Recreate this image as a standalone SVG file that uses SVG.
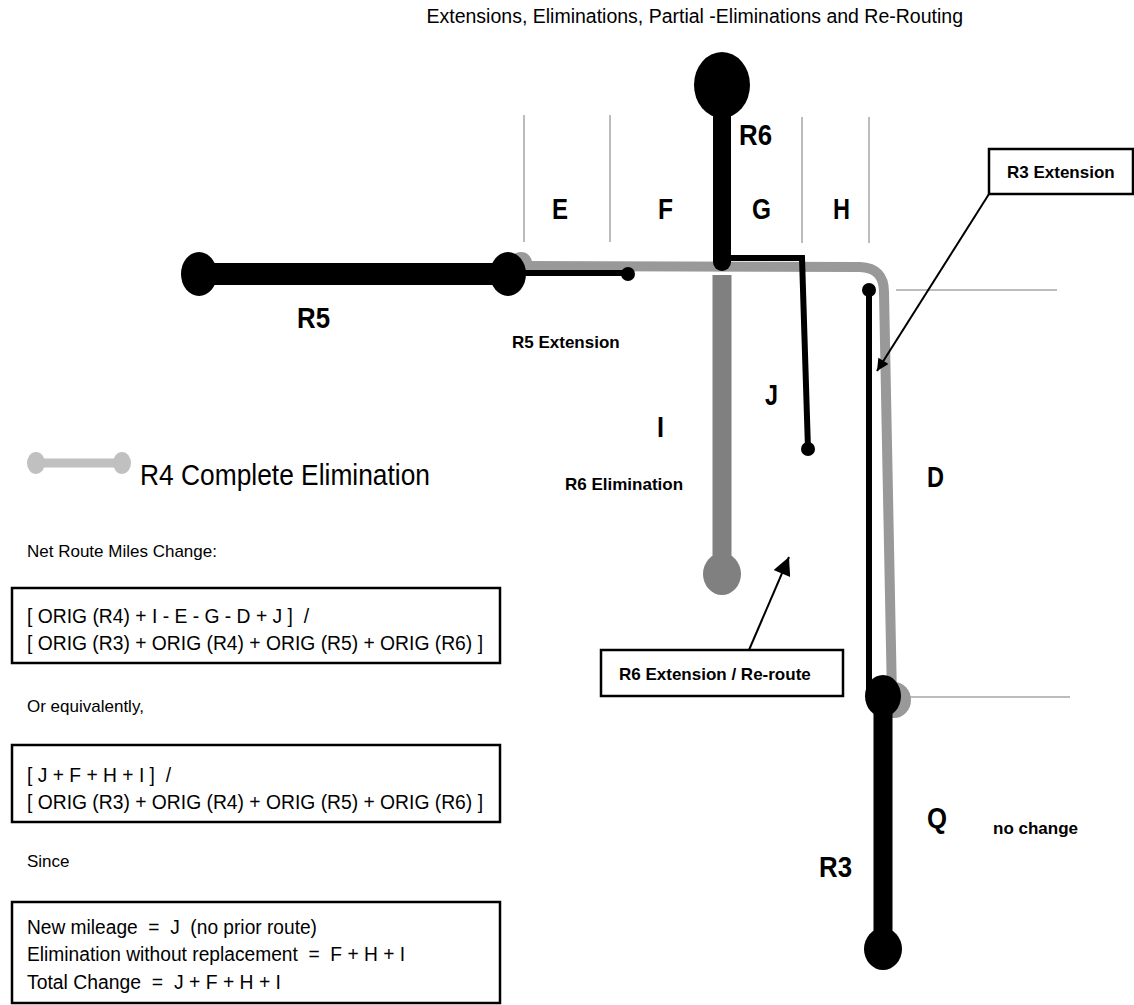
<svg xmlns="http://www.w3.org/2000/svg" width="1134" height="1005" viewBox="0 0 1134 1005">
<style>
text{font-family:"Liberation Sans",Arial,sans-serif;fill:#000}
.big{font-size:29px;font-weight:bold}
.lbl{font-size:17px;font-weight:bold}
.reg{font-size:17px}
.f{font-size:20px;white-space:pre}
.grid{stroke:#a6a6a6;stroke-width:1.5}
.box{fill:#fff;stroke:#000;stroke-width:2.5}
.blk{fill:#000}
.ln{stroke:#000;fill:none}
</style>
<defs>
<marker id="ah" viewBox="0 0 10 10" refX="10" refY="5" markerWidth="16" markerHeight="12" markerUnits="userSpaceOnUse" orient="auto"><path d="M0,0 L10,5 L0,10 z" fill="#000"/></marker>
<marker id="ah2" viewBox="0 0 10 10" refX="10" refY="5" markerWidth="22" markerHeight="18" markerUnits="userSpaceOnUse" orient="auto"><path d="M0,0 L10,5 L0,10 z" fill="#000"/></marker>
</defs>
<rect width="1134" height="1005" fill="#fff"/>

<g id="title"><text x="963" y="23" text-anchor="end" font-size="19.5">Extensions, Eliminations, Partial -Eliminations and Re-Routing</text></g>

<g id="grid">
<line class="grid" x1="524" y1="115" x2="524" y2="242"/>
<line class="grid" x1="610" y1="115" x2="610" y2="242"/>
<line class="grid" x1="802" y1="117" x2="802" y2="243"/>
<line class="grid" x1="869" y1="117" x2="869" y2="243"/>
<line class="grid" x1="896" y1="290" x2="1057" y2="290"/>
<line class="grid" x1="905" y1="697" x2="1070" y2="697"/>
</g>

<g id="r4-route">
<circle cx="521" cy="263" r="11" fill="#999"/>
<path d="M521 266 L860 267 Q884 268 884 292 L892 698" stroke="#999" stroke-width="10" fill="none" stroke-linecap="round"/>
<ellipse cx="894" cy="700" rx="17" ry="18" fill="#999"/>
</g>

<g id="r6-elimination">
<line x1="722" y1="275" x2="722" y2="565" stroke="#808080" stroke-width="19"/>
<ellipse cx="722" cy="574" rx="19" ry="21" fill="#808080"/>
</g>

<g id="r5">
<rect class="blk" x="199" y="263" width="309" height="22"/>
<ellipse class="blk" cx="199" cy="274" rx="18" ry="22"/>
<ellipse class="blk" cx="508" cy="274" rx="18" ry="22"/>
</g>

<g id="r5-extension">
<line class="ln" x1="508" y1="273" x2="628" y2="273" stroke-width="6"/>
<circle class="blk" cx="628" cy="274" r="7"/>
</g>

<g id="r6">
<ellipse class="blk" cx="722" cy="85" rx="28" ry="33"/>
<line class="ln" x1="722" y1="100" x2="722" y2="262" stroke-width="18" stroke-linecap="round"/>
</g>

<g id="r6-extension">
<polyline class="ln" points="722,258 802,258 808,449" stroke-width="6"/>
<circle class="blk" cx="808" cy="449" r="7"/>
</g>

<g id="r3-extension">
<line class="ln" x1="869" y1="290" x2="869" y2="697" stroke-width="6"/>
<circle class="blk" cx="869" cy="290" r="7"/>
</g>

<g id="r3">
<ellipse class="blk" cx="883" cy="696" rx="18" ry="21"/>
<rect class="blk" x="873.5" y="696" width="19" height="253"/>
<ellipse class="blk" cx="883" cy="949" rx="19" ry="21"/>
</g>

<g id="labels">
<text class="big" x="552" y="219" textLength="16" lengthAdjust="spacingAndGlyphs">E</text>
<text class="big" x="658" y="219" textLength="15" lengthAdjust="spacingAndGlyphs">F</text>
<text class="big" x="752" y="219" textLength="19" lengthAdjust="spacingAndGlyphs">G</text>
<text class="big" x="833" y="219" textLength="17" lengthAdjust="spacingAndGlyphs">H</text>
<text class="big" x="739" y="145" textLength="33" lengthAdjust="spacingAndGlyphs">R6</text>
<text class="big" x="297" y="328" textLength="33" lengthAdjust="spacingAndGlyphs">R5</text>
<text class="big" x="657" y="437" textLength="7" lengthAdjust="spacingAndGlyphs">I</text>
<text class="big" x="765" y="405" textLength="13" lengthAdjust="spacingAndGlyphs">J</text>
<text class="big" x="927" y="487" textLength="17" lengthAdjust="spacingAndGlyphs">D</text>
<text class="big" x="927" y="828" textLength="20" lengthAdjust="spacingAndGlyphs">Q</text>
<text class="big" x="819" y="877" textLength="33" lengthAdjust="spacingAndGlyphs">R3</text>
<text class="lbl" x="512" y="348">R5 Extension</text>
<text class="lbl" x="565" y="490">R6 Elimination</text>
<text class="lbl" x="993" y="834">no change</text>
</g>

<g id="r3-extension-callout">
<rect class="box" x="989" y="149" width="144" height="45" stroke-width="2"/>
<text class="lbl" x="1007" y="178">R3 Extension</text>
</g>

<g id="r6-extension-callout">
<rect class="box" x="601" y="650" width="242" height="46" stroke-width="2"/>
<text class="lbl" x="619" y="680">R6 Extension / Re-route</text>
</g>

<g id="connectors">
<line class="ln" x1="989" y1="194" x2="877" y2="371" stroke-width="2" marker-end="url(#ah)"/>
<line class="ln" x1="749" y1="650" x2="789" y2="557" stroke-width="2" marker-end="url(#ah2)"/>
</g>

<g id="legend">
<line x1="36" y1="463" x2="122" y2="463" stroke="#c0c0c0" stroke-width="9"/>
<ellipse cx="36" cy="463" rx="9" ry="11" fill="#c0c0c0"/>
<ellipse cx="122" cy="463" rx="9" ry="11" fill="#c0c0c0"/>
<text x="140" y="485" font-size="29" textLength="290" lengthAdjust="spacingAndGlyphs">R4 Complete Elimination</text>
</g>

<g id="formula">
<text class="reg" x="27" y="557">Net Route Miles Change:</text>
<rect class="box" x="12" y="588" width="488" height="75"/>
<text class="f" x="27" y="623" xml:space="preserve" textLength="282" lengthAdjust="spacingAndGlyphs">[ ORIG (R4) + I - E - G - D + J ]  /</text>
<text class="f" x="27" y="650" textLength="456" lengthAdjust="spacingAndGlyphs">[ ORIG (R3) + ORIG (R4) + ORIG (R5) + ORIG (R6) ]</text>
<text class="reg" x="27" y="712">Or equivalently,</text>
<rect class="box" x="12" y="745" width="488" height="77"/>
<text class="f" x="27" y="782" xml:space="preserve" textLength="144" lengthAdjust="spacingAndGlyphs">[ J + F + H + I ]  /</text>
<text class="f" x="27" y="809" textLength="456" lengthAdjust="spacingAndGlyphs">[ ORIG (R3) + ORIG (R4) + ORIG (R5) + ORIG (R6) ]</text>
<text class="reg" x="27" y="867">Since</text>
<rect class="box" x="12" y="902" width="488" height="101"/>
<text class="f" x="27" y="934" xml:space="preserve" textLength="290" lengthAdjust="spacingAndGlyphs">New mileage  =  J  (no prior route)</text>
<text class="f" x="27" y="961" xml:space="preserve" textLength="378" lengthAdjust="spacingAndGlyphs">Elimination without replacement  =  F + H + I</text>
<text class="f" x="27" y="989" xml:space="preserve" textLength="254" lengthAdjust="spacingAndGlyphs">Total Change  =  J + F + H + I</text>
</g>
</svg>
